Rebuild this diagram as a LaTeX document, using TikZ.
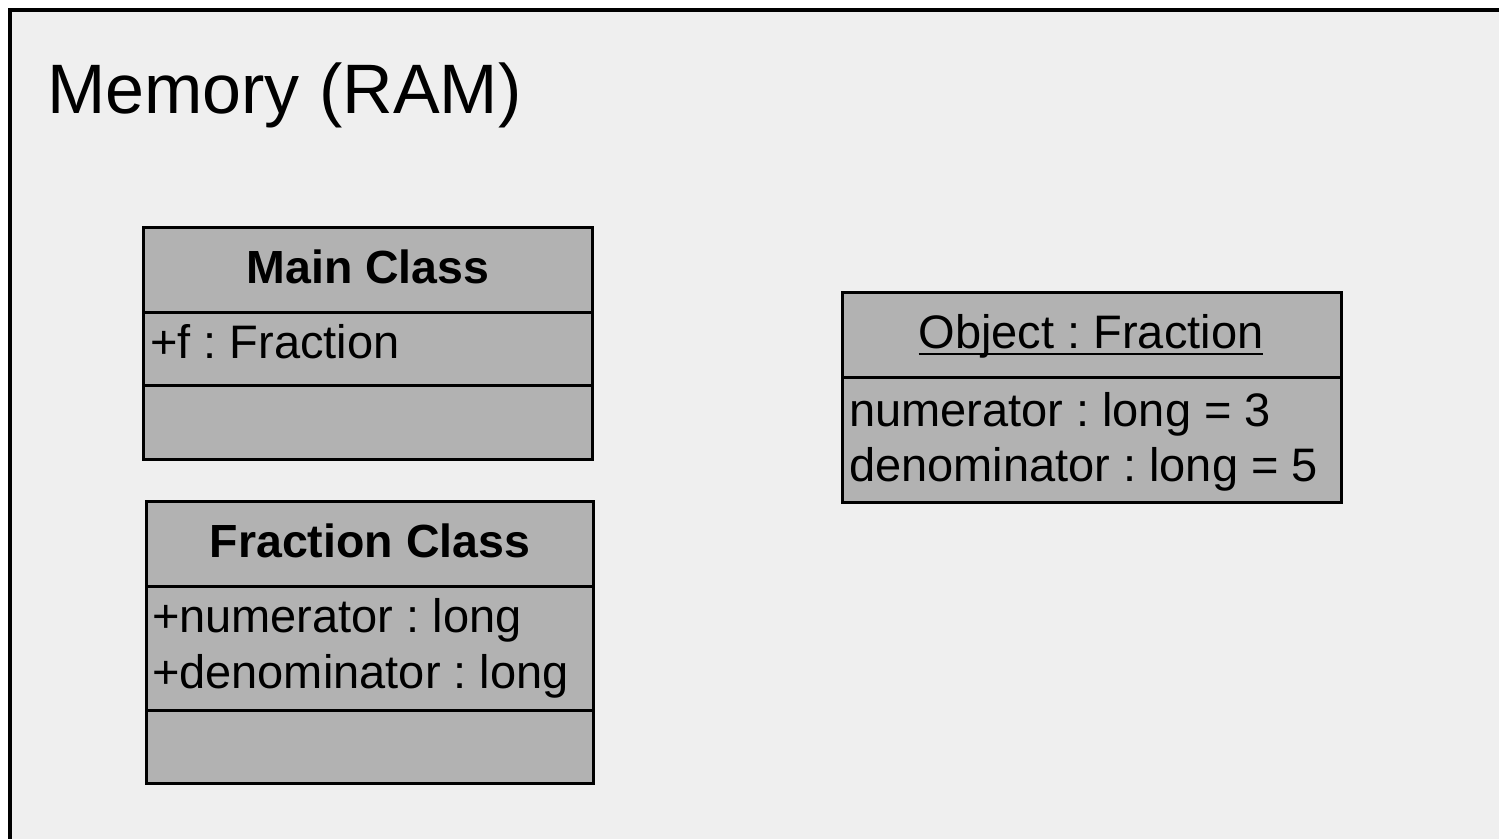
\documentclass[tikz,border=0pt]{standalone}
\usepackage{fontspec}
\setmainfont{Liberation Sans}
\frenchspacing
\definecolor{ramback}{HTML}{EFEFEF}
\definecolor{boxfill}{HTML}{B2B2B2}
\begin{document}
\begin{tikzpicture}[x=1pt,y=-1pt,
  compartment/.style={draw=black,fill=boxfill,line width=3pt,rectangle,
    anchor=north west,inner sep=0pt,outer sep=0pt,minimum width=#1},
  umltext/.style={inner sep=0pt,outer sep=0pt,font=\fontsize{47}{55}\selectfont},
  umltitle/.style={umltext,anchor=base,font=\fontsize{46.5}{55}\selectfont\bfseries},
  umlattr/.style={umltext,anchor=base west}]
\useasboundingbox (0,0) rectangle (1499,839);
% memory area with its top and left frame lines
\fill[ramback] (10,10) rectangle (1499,839);
\draw[line width=4pt] (1499,10) -- (10,10) -- (10,839);
\node[anchor=base west,inner sep=0pt,font=\fontsize{70}{84}\selectfont] (ram) at (47,113) {Memory (RAM)};

% Main Class
\node[compartment=449pt,minimum height=85pt] (mainhead) at (143,227) {};
\node[compartment=449pt,minimum height=73pt] (mainattr) at (143,312) {};
\node[compartment=449pt,minimum height=74pt] (mainops) at (143,385) {};
\node[umltitle] (maintitle) at (368,283) {Main Class};
\node[umlattr] (mainf) at (150,358) {+f : Fraction};

% Fraction Class
\node[compartment=447pt,minimum height=85pt] (frachead) at (146,501) {};
\node[compartment=447pt,minimum height=124pt] (fracattr) at (146,586) {};
\node[compartment=447pt,minimum height=73pt] (fracops) at (146,710) {};
\node[umltitle] (fractitle) at (370,557) {Fraction Class};
\node[umlattr] (fracnum) at (152,632) {+numerator : long};
\node[umlattr] (fracden) at (152,688) {+denominator : long};

% Object : Fraction
\node[compartment=499pt,minimum height=85pt] (objhead) at (842,292) {};
\node[compartment=499pt,minimum height=125pt] (objattr) at (842,377) {};
\node[umltext,anchor=base] (objtitle) at (1091,348) {Object : Fraction};
\draw[line width=2pt] ([yshift=-6pt]objtitle.base west) -- ([yshift=-6pt]objtitle.base east);
\node[umlattr] (objnum) at (849,426) {numerator : long = 3};
\node[umlattr] (objden) at (849,481) {denominator : long = 5};
\end{tikzpicture}
\end{document}
